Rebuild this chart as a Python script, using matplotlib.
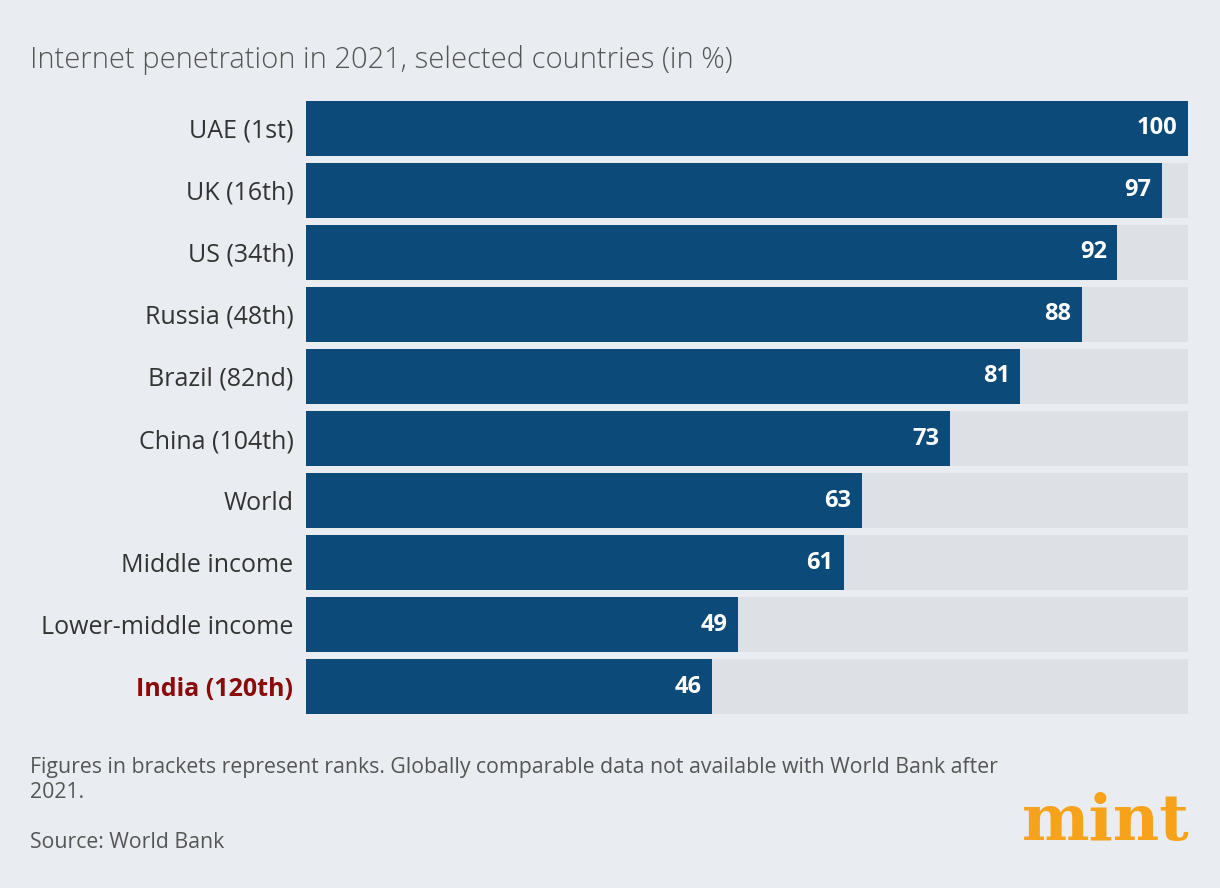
import matplotlib
matplotlib.use("Agg")
import matplotlib.pyplot as plt

labels = ["UAE (1st)", "UK (16th)", "US (34th)", "Russia (48th)", "Brazil (82nd)",
          "China (104th)", "World", "Middle income", "Lower-middle income", "India (120th)"]
values = [100, 97, 92, 88, 81, 73, 63, 61, 49, 46]

plt.rcParams['font.family'] = ['Open Sans', 'DejaVu Sans']
bg = "#e9ecf0"
fig = plt.figure(figsize=(12.2, 8.88), dpi=100, facecolor=bg)
ax = fig.add_axes([306/1220, 1-714/888, 882/1220, 613/888])
ax.set_facecolor(bg)
y = list(range(len(labels)))
ax.barh(y, [100]*len(values), height=0.88, color="#dde1e6")
ax.barh(y, values, height=0.88, color="#0c4a7a")
for yi, v in zip(y, values):
    ax.text(v - 1.2, yi, str(v), ha="right", va="center", color="white",
            fontsize=17, fontweight="bold")
ax.set_xlim(0, 100)
ax.set_ylim(9.44, -0.44)
ax.set_yticks(y)
ax.set_yticklabels(labels, fontsize=18, color="#333333")
tl = ax.get_yticklabels()[-1]
tl.set_color("#8b0a0a"); tl.set_fontweight("bold")
ax.tick_params(axis="y", length=0, pad=9)
ax.set_xticks([])
for s in ax.spines.values():
    s.set_visible(False)

fig.text(30/1220, 1-60/888, "Internet penetration in 2021, selected countries (in %)",
         fontsize=21, color="#555555", va="center", fontweight="light")
fig.text(30/1220, 1-780/888, "Figures in brackets represent ranks. Globally comparable data not available with World Bank after\n2021.",
         fontsize=15.3, color="#555555", va="center", linespacing=1.25)
fig.text(30/1220, 1-842/888, "Source: World Bank", fontsize=15.3, color="#555555", va="center")
fig.text(1190/1220, 1-822/888, "mint", fontsize=46, color="#f7a21b", ha="right", va="center",
         family="DejaVu Serif", fontweight="bold")
fig.savefig("out.png", dpi=100, facecolor=bg)
